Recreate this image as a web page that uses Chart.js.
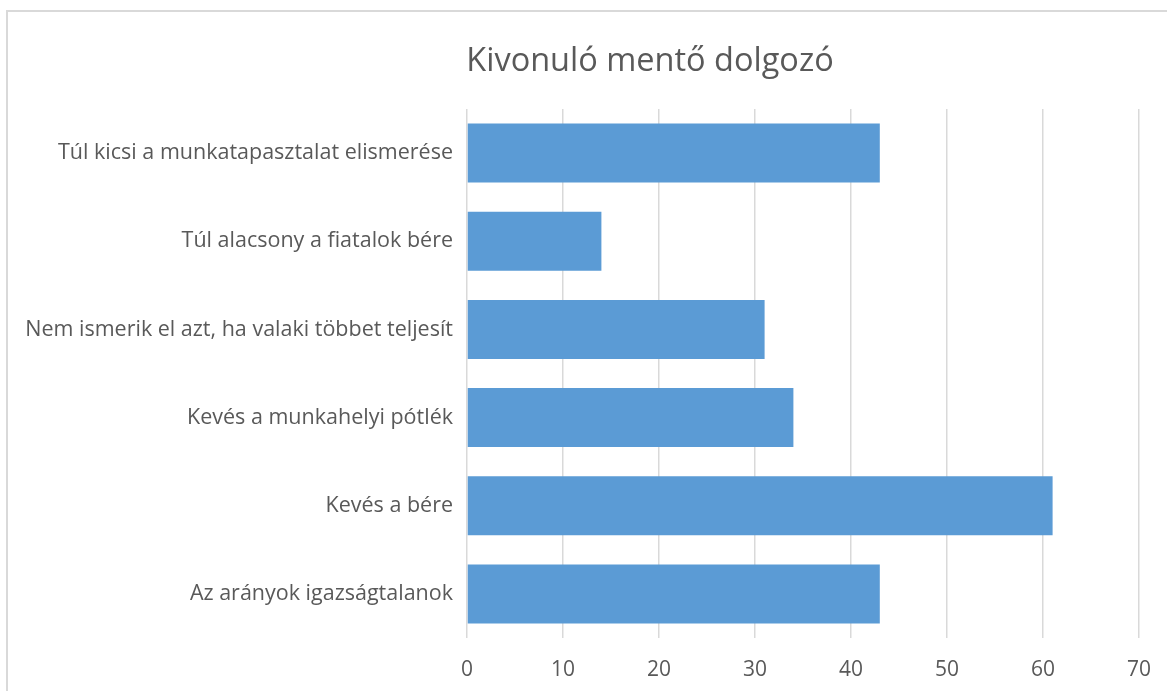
<!DOCTYPE html>
<html>
<head>
<meta charset="utf-8">
<script src="https://cdn.jsdelivr.net/npm/chart.js@4/dist/chart.umd.min.js"></script>
<style>
  html, body { margin: 0; padding: 0; background: #ffffff; }
  #wrap { position: relative; width: 1167px; height: 691px; overflow: hidden; }
  #frame { position: absolute; left: 6px; top: 10px; right: -10px; bottom: -10px;
           border-left: 2px solid #d9d9d9; border-top: 2px solid #d9d9d9; }
  canvas { position: absolute; left: 0; top: 0; }
</style>
</head>
<body>
<div id="wrap">
  <div id="frame"></div>
  <canvas id="c" width="1167" height="691"></canvas>
</div>
<script>
const chartTitle = "Kivonuló mentő dolgozó";
const categories = [
  "Túl kicsi a munkatapasztalat elismerése",
  "Túl alacsony a fiatalok bére",
  "Nem ismerik el azt, ha valaki többet teljesít",
  "Kevés a munkahelyi pótlék",
  "Kevés a bére",
  "Az arányok igazságtalanok"
];
const values = [43, 14, 31, 34, 61, 43];
const xMin = 0, xMax = 70, xStep = 10;

const FONT = "'Open Sans', 'Liberation Sans', sans-serif";
const TEXT = '#595959';

const titlePlugin = {
  id: 'excelTitle',
  afterDraw(chart) {
    const ctx = chart.ctx;
    ctx.save();
    ctx.font = "32.5px " + FONT;
    ctx.fillStyle = TEXT;
    ctx.textAlign = 'center';
    ctx.textBaseline = 'middle';
    ctx.fillText(chartTitle, 650, 62);
    ctx.restore();
  }
};

new Chart(document.getElementById('c'), {
  type: 'bar',
  data: {
    labels: categories,
    datasets: [{
      data: values,
      backgroundColor: '#5b9bd5',
      borderWidth: 0,
      categoryPercentage: 1.0,
      barPercentage: 0.67
    }]
  },
  plugins: [titlePlugin],
  options: {
    indexAxis: 'y',
    responsive: false,
    animation: false,
    devicePixelRatio: 1,
    layout: { padding: { left: 0, right: 28, top: 109, bottom: 0 } },
    plugins: {
      legend: { display: false },
      tooltip: { enabled: false },
      title: { display: false }
    },
    scales: {
      x: {
        min: xMin, max: xMax,
        position: 'bottom',
        ticks: { stepSize: xStep, color: TEXT, font: { family: FONT, size: 21 }, padding: 19 },
        grid: { color: '#d9d9d9', lineWidth: 1.5, drawTicks: false },
        border: { display: false },
        afterFit: s => { s.height = 53; s.paddingRight = 0; s.paddingLeft = 0; }
      },
      y: {
        ticks: { color: TEXT, font: { family: FONT, size: 21.5 }, padding: 14, autoSkip: false },
        grid: { display: false, drawTicks: false },
        border: { display: false },
        afterFit: s => { s.width = 467; s.paddingTop = 0; s.paddingBottom = 0; }
      }
    }
  }
});
</script>
</body>
</html>
